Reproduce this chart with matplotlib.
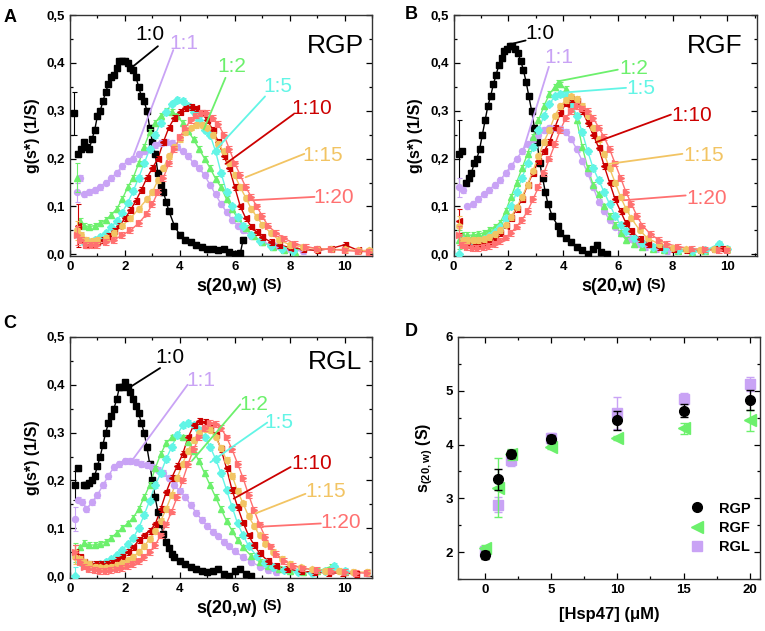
import numpy as np
import matplotlib
matplotlib.use("Agg")
import matplotlib.pyplot as plt
from matplotlib.ticker import MultipleLocator, FuncFormatter
from matplotlib.lines import Line2D

plt.rcParams['font.family'] = ['Liberation Sans', 'DejaVu Sans']
plt.rcParams['mathtext.fontset'] = 'custom'
plt.rcParams['mathtext.rm'] = 'Liberation Sans'
plt.rcParams['mathtext.bf'] = 'Liberation Sans:bold'

ratios = ["1:0", "1:1", "1:2", "1:5", "1:10", "1:15", "1:20"]
colors = ["#000000", "#c9a3f5", "#6cf06c", "#62f5e6", "#cc0000", "#f2c463", "#ff7070"]
markers = ["s", "o", "^", "D", "<", "h", ">"]

# ---------------- Panel A (RGP) ----------------
A_x0 = [0.15,0.3,0.4,0.5,0.6,0.7,0.8,0.9,1.0,1.1,1.2,1.3,1.4,1.5,1.6,1.7,1.8,1.9,2.0,2.1,2.2,2.3,2.4,2.5,2.6,2.7,2.8,2.9,3.0,3.1,3.2,3.3,3.4,3.5,3.6,3.8,4.0,4.2,4.4,4.6,4.8,5.0,5.2,5.4,5.6,5.8,6.0,6.2,6.3]
A_y0 = [0.295,0.21,0.22,0.235,0.225,0.22,0.24,0.26,0.29,0.30,0.32,0.34,0.355,0.37,0.375,0.39,0.405,0.405,0.405,0.40,0.39,0.385,0.37,0.35,0.33,0.32,0.30,0.265,0.235,0.21,0.17,0.145,0.13,0.11,0.09,0.06,0.04,0.03,0.025,0.02,0.015,0.01,0.012,0.008,0.01,0.005,0.0,0.002,0.03]
A_x1 = [0.25,0.35,0.5,0.7,0.9,1.1,1.3,1.5,1.7,1.9,2.1,2.3,2.5,2.7,2.9,3.1,3.3,3.5,3.7,3.9,4.1,4.3,4.5,4.7,4.9,5.1,5.3,5.5,5.7,5.9,6.1,6.3,6.6,7.0,7.5,8.0,8.5]
A_y1 = [0.13,0.16,0.125,0.13,0.135,0.14,0.15,0.16,0.17,0.185,0.195,0.20,0.21,0.215,0.22,0.228,0.232,0.235,0.232,0.225,0.215,0.205,0.19,0.18,0.165,0.145,0.125,0.105,0.088,0.072,0.06,0.05,0.038,0.026,0.017,0.01,0.006]
A_x2 = [0.25,0.35,0.5,0.7,0.9,1.1,1.3,1.5,1.7,1.9,2.1,2.3,2.5,2.7,2.9,3.1,3.3,3.5,3.7,3.9,4.1,4.3,4.5,4.7,4.9,5.1,5.3,5.5,5.7,5.9,6.1,6.4,6.7,7.0,7.4,7.8,8.2]
A_y2 = [0.16,0.07,0.06,0.058,0.06,0.065,0.072,0.082,0.095,0.115,0.14,0.16,0.19,0.225,0.255,0.275,0.29,0.30,0.298,0.29,0.275,0.258,0.24,0.22,0.2,0.18,0.158,0.14,0.115,0.095,0.075,0.055,0.038,0.025,0.015,0.009,0.005]
A_x3 = [0.3,0.5,0.7,0.9,1.1,1.3,1.5,1.7,1.9,2.1,2.3,2.5,2.7,2.9,3.1,3.3,3.5,3.7,3.9,4.1,4.3,4.5,4.7,4.9,5.1,5.3,5.5,5.7,5.9,6.1,6.3,6.6,6.9,7.3,7.7,8.1]
A_y3 = [0.04,0.025,0.025,0.03,0.037,0.045,0.057,0.07,0.087,0.108,0.132,0.16,0.19,0.22,0.25,0.275,0.298,0.315,0.322,0.32,0.31,0.298,0.28,0.26,0.25,0.215,0.17,0.13,0.1,0.078,0.06,0.04,0.028,0.017,0.01,0.006]
A_x4 = [0.3,0.45,0.6,0.8,1.0,1.2,1.4,1.6,1.8,2.0,2.2,2.4,2.6,2.8,3.0,3.2,3.4,3.6,3.8,4.0,4.2,4.4,4.6,4.8,5.0,5.2,5.4,5.6,5.8,6.0,6.2,6.4,6.6,6.8,7.0,7.3,7.6,8.0,8.5,9.0,9.5,10.0,10.5]
A_y4 = [0.06,0.03,0.02,0.022,0.025,0.03,0.038,0.048,0.06,0.075,0.092,0.112,0.135,0.16,0.18,0.2,0.235,0.265,0.285,0.298,0.305,0.308,0.305,0.295,0.28,0.26,0.235,0.205,0.18,0.14,0.1,0.075,0.058,0.046,0.036,0.026,0.02,0.014,0.01,0.008,0.012,0.02,0.008]
A_x5 = [0.25,0.4,0.6,0.8,1.0,1.3,1.6,1.9,2.2,2.5,2.8,3.0,3.2,3.4,3.6,3.8,4.0,4.2,4.4,4.6,4.8,5.0,5.2,5.4,5.6,5.8,6.0,6.2,6.4,6.6,6.8,7.0,7.3,7.6,8.0,8.5,9.0,9.5,10.0,10.5,10.9]
A_y5 = [0.05,0.04,0.03,0.028,0.03,0.035,0.045,0.06,0.075,0.095,0.115,0.13,0.155,0.18,0.205,0.225,0.24,0.255,0.265,0.27,0.27,0.265,0.25,0.23,0.215,0.19,0.165,0.14,0.118,0.095,0.078,0.062,0.045,0.03,0.02,0.015,0.012,0.01,0.01,0.008,0.008]
A_x6 = [0.25,0.4,0.6,0.8,1.0,1.3,1.6,1.9,2.2,2.5,2.8,3.0,3.2,3.4,3.6,3.8,4.0,4.2,4.4,4.6,4.8,5.0,5.2,5.4,5.6,5.8,6.0,6.2,6.4,6.6,6.8,7.0,7.2,7.5,7.8,8.2,8.6,9.0,9.5,10.0,10.5,10.9]
A_y6 = [0.04,0.03,0.02,0.02,0.02,0.025,0.03,0.04,0.05,0.065,0.085,0.105,0.13,0.16,0.19,0.22,0.245,0.265,0.28,0.29,0.295,0.295,0.285,0.272,0.25,0.22,0.19,0.165,0.14,0.12,0.1,0.08,0.06,0.045,0.033,0.022,0.016,0.012,0.01,0.008,0.006,0.005]
A_err0 = [0.045, 0.02, 0.03, 0.02, 0.045, 0.02, 0.02]

# ---------------- Panel B (RGF) ----------------
B_x0 = [0.2,0.3,0.45,0.55,0.65,0.75,0.85,0.95,1.05,1.15,1.25,1.35,1.45,1.55,1.65,1.75,1.85,1.95,2.05,2.15,2.25,2.35,2.45,2.55,2.65,2.75,2.85,2.95,3.05,3.15,3.25,3.35,3.45,3.6,3.8,3.9,4.1,4.3,4.5,4.7,4.9,5.1,5.25,5.4,5.6]
B_y0 = [0.21,0.215,0.15,0.16,0.17,0.19,0.2,0.22,0.25,0.28,0.31,0.33,0.355,0.375,0.395,0.41,0.425,0.43,0.435,0.435,0.43,0.42,0.405,0.385,0.36,0.33,0.3,0.265,0.235,0.19,0.16,0.13,0.105,0.08,0.06,0.045,0.035,0.025,0.015,0.008,0.0,0.01,0.02,0.005,0.0]
B_x1 = [0.2,0.35,0.5,0.7,0.9,1.1,1.3,1.5,1.7,1.9,2.1,2.3,2.5,2.7,2.9,3.1,3.3,3.5,3.7,3.9,4.1,4.3,4.5,4.7,4.9,5.1,5.3,5.5,5.7,5.9,6.1,6.4,6.7,7.0,7.4,7.8]
B_y1 = [0.14,0.135,0.1,0.105,0.115,0.125,0.135,0.145,0.155,0.17,0.185,0.2,0.215,0.23,0.24,0.25,0.26,0.265,0.265,0.262,0.255,0.24,0.22,0.195,0.17,0.14,0.11,0.09,0.072,0.058,0.045,0.032,0.022,0.015,0.01,0.006]
B_x2 = [0.2,0.35,0.5,0.7,0.9,1.1,1.3,1.5,1.7,1.9,2.1,2.3,2.5,2.7,2.9,3.1,3.3,3.5,3.7,3.8,3.9,4.1,4.3,4.5,4.7,4.9,5.1,5.3,5.5,5.7,5.9,6.1,6.3,6.6,6.9,7.3,7.7,8.2,8.7,9.2,9.7,10.0]
B_y2 = [0.03,0.04,0.04,0.04,0.042,0.045,0.05,0.058,0.066,0.09,0.12,0.15,0.18,0.21,0.245,0.28,0.31,0.335,0.35,0.358,0.355,0.345,0.32,0.28,0.225,0.18,0.145,0.125,0.1,0.08,0.062,0.045,0.03,0.022,0.016,0.012,0.008,0.006,0.005,0.006,0.02,0.01]
B_x3 = [0.2,0.35,0.5,0.7,0.9,1.1,1.3,1.5,1.7,1.9,2.1,2.3,2.5,2.7,2.9,3.1,3.3,3.5,3.7,3.9,4.1,4.3,4.5,4.7,4.9,5.1,5.3,5.5,5.7,5.9,6.1,6.3,6.6,6.9,7.3,7.7,8.2,8.7,9.2,9.7,10.0]
B_y3 = [0.0,0.03,0.025,0.025,0.028,0.032,0.038,0.046,0.058,0.075,0.1,0.13,0.16,0.19,0.225,0.26,0.29,0.315,0.33,0.335,0.33,0.315,0.29,0.255,0.215,0.18,0.155,0.13,0.105,0.08,0.062,0.048,0.033,0.023,0.015,0.01,0.008,0.007,0.008,0.022,0.012]
B_x4 = [0.2,0.35,0.5,0.7,0.9,1.1,1.3,1.5,1.7,1.9,2.1,2.3,2.5,2.7,2.9,3.1,3.3,3.5,3.7,3.9,4.1,4.3,4.5,4.7,4.9,5.1,5.3,5.5,5.7,5.9,6.1,6.3,6.5,6.8,7.1,7.5,8.0,8.5,9.0,9.5,9.8]
B_y4 = [0.07,0.03,0.02,0.018,0.02,0.023,0.028,0.035,0.045,0.06,0.075,0.095,0.115,0.145,0.17,0.195,0.215,0.235,0.265,0.295,0.315,0.325,0.32,0.3,0.275,0.25,0.223,0.185,0.15,0.115,0.09,0.065,0.048,0.032,0.022,0.015,0.01,0.008,0.008,0.01,0.012]
B_x5 = [0.2,0.35,0.5,0.7,0.9,1.1,1.3,1.5,1.7,1.9,2.1,2.3,2.5,2.7,2.9,3.1,3.3,3.5,3.7,3.9,4.1,4.3,4.5,4.7,4.9,5.1,5.3,5.5,5.7,5.9,6.1,6.3,6.5,6.8,7.1,7.5,8.0,8.5,9.0,9.5,10.0]
B_y5 = [0.06,0.03,0.03,0.03,0.03,0.032,0.036,0.042,0.05,0.062,0.078,0.098,0.12,0.145,0.175,0.205,0.235,0.26,0.29,0.31,0.322,0.33,0.325,0.31,0.29,0.265,0.24,0.21,0.18,0.15,0.12,0.095,0.075,0.05,0.033,0.022,0.014,0.01,0.009,0.01,0.01]
B_x6 = [0.2,0.35,0.5,0.7,0.9,1.1,1.3,1.5,1.7,1.9,2.1,2.3,2.5,2.7,2.9,3.1,3.3,3.5,3.7,3.9,4.1,4.3,4.5,4.7,4.9,5.1,5.3,5.5,5.7,5.9,6.1,6.3,6.5,6.7,6.9,7.2,7.5,7.8,8.2,8.7,9.2,9.7,10.0]
B_y6 = [0.04,0.02,0.015,0.013,0.013,0.015,0.018,0.022,0.028,0.035,0.045,0.058,0.072,0.09,0.115,0.14,0.17,0.2,0.23,0.26,0.285,0.3,0.31,0.305,0.3,0.285,0.265,0.245,0.22,0.19,0.16,0.13,0.105,0.08,0.06,0.042,0.03,0.022,0.016,0.012,0.01,0.009,0.008]
B_err0 = [0.07, 0.02, 0.02, 0.02, 0.025, 0.02, 0.02]

# ---------------- Panel C (RGL) ----------------
C_x0 = [0.2,0.3,0.5,0.6,0.7,0.8,0.9,1.0,1.1,1.2,1.3,1.4,1.5,1.6,1.7,1.8,1.9,2.0,2.1,2.2,2.3,2.4,2.5,2.6,2.7,2.8,2.9,3.0,3.1,3.2,3.3,3.4,3.5,3.6,3.7,3.8,4.0,4.2,4.4,4.6,4.8,5.0,5.2,5.4,5.6,5.8,6.0,6.2,6.4,6.6]
C_y0 = [0.19,0.225,0.19,0.19,0.195,0.2,0.21,0.23,0.25,0.275,0.3,0.32,0.335,0.35,0.37,0.395,0.395,0.405,0.395,0.385,0.37,0.355,0.34,0.32,0.3,0.27,0.235,0.2,0.165,0.135,0.108,0.088,0.072,0.058,0.047,0.04,0.032,0.025,0.02,0.015,0.01,0.008,0.01,0.015,0.005,0.0,0.01,0.015,0.005,0.0]
C_x1 = [0.2,0.3,0.45,0.6,0.8,1.0,1.2,1.4,1.6,1.8,2.0,2.2,2.4,2.6,2.8,3.0,3.2,3.4,3.6,3.8,4.0,4.2,4.4,4.6,4.8,5.0,5.2,5.4,5.6,5.8,6.0,6.3,6.6,6.9,7.2,7.5]
C_y1 = [0.12,0.16,0.155,0.14,0.155,0.17,0.19,0.21,0.228,0.235,0.24,0.24,0.238,0.235,0.232,0.228,0.222,0.215,0.205,0.19,0.178,0.165,0.148,0.132,0.117,0.105,0.093,0.083,0.072,0.062,0.052,0.04,0.03,0.02,0.013,0.008]
C_x2 = [0.2,0.35,0.5,0.7,0.9,1.1,1.3,1.5,1.7,1.9,2.1,2.3,2.5,2.7,2.9,3.1,3.3,3.5,3.7,3.9,4.1,4.3,4.5,4.7,4.9,5.1,5.3,5.5,5.7,5.9,6.1,6.3,6.6,6.9,7.2,7.6,8.0,8.5,9.0,9.5,10.0]
C_y2 = [0.05,0.06,0.07,0.065,0.065,0.068,0.072,0.08,0.09,0.1,0.11,0.122,0.14,0.165,0.19,0.225,0.255,0.278,0.29,0.295,0.29,0.28,0.262,0.24,0.215,0.19,0.165,0.14,0.115,0.095,0.075,0.06,0.042,0.03,0.022,0.015,0.01,0.008,0.01,0.02,0.008]
C_x3 = [0.2,0.35,0.5,0.7,0.9,1.1,1.3,1.5,1.7,1.9,2.1,2.3,2.5,2.7,2.9,3.1,3.3,3.5,3.7,3.9,4.1,4.3,4.5,4.7,4.9,5.1,5.3,5.5,5.7,5.9,6.1,6.3,6.5,6.8,7.1,7.4,7.8,8.3,8.8,9.3,9.6,10.0]
C_y3 = [0.0,0.03,0.025,0.02,0.022,0.025,0.03,0.036,0.045,0.055,0.067,0.08,0.1,0.128,0.158,0.19,0.215,0.245,0.27,0.295,0.315,0.32,0.315,0.305,0.29,0.27,0.245,0.215,0.18,0.145,0.11,0.085,0.063,0.042,0.027,0.018,0.012,0.008,0.007,0.01,0.022,0.01]
C_x4 = [0.2,0.35,0.5,0.7,0.9,1.1,1.3,1.5,1.7,1.9,2.1,2.3,2.5,2.7,2.9,3.1,3.3,3.5,3.7,3.9,4.1,4.3,4.5,4.7,4.9,5.1,5.3,5.5,5.7,5.9,6.1,6.3,6.5,6.7,6.9,7.2,7.5,7.9,8.4,8.9,9.4,9.9,10.4]
C_y4 = [0.05,0.04,0.03,0.025,0.025,0.025,0.025,0.028,0.033,0.04,0.05,0.06,0.075,0.085,0.095,0.108,0.14,0.175,0.205,0.23,0.255,0.29,0.315,0.325,0.322,0.31,0.295,0.265,0.225,0.18,0.145,0.112,0.085,0.065,0.048,0.032,0.022,0.015,0.01,0.008,0.007,0.006,0.005]
C_x5 = [0.2,0.35,0.5,0.7,0.9,1.1,1.3,1.5,1.7,1.9,2.1,2.3,2.5,2.7,2.9,3.1,3.3,3.5,3.7,3.9,4.1,4.3,4.5,4.7,4.9,5.1,5.3,5.5,5.7,5.9,6.1,6.3,6.5,6.7,6.9,7.1,7.4,7.7,8.0,8.4,8.8,9.3,9.8,10.3,10.8]
C_y5 = [0.04,0.035,0.03,0.025,0.02,0.018,0.018,0.02,0.023,0.027,0.033,0.04,0.05,0.062,0.078,0.095,0.115,0.14,0.17,0.205,0.235,0.262,0.285,0.3,0.308,0.305,0.29,0.268,0.242,0.21,0.178,0.152,0.125,0.105,0.085,0.068,0.05,0.035,0.025,0.018,0.014,0.011,0.01,0.009,0.008]
C_x6 = [0.2,0.35,0.5,0.7,0.9,1.1,1.3,1.5,1.7,1.9,2.1,2.3,2.5,2.7,2.9,3.1,3.3,3.5,3.7,3.9,4.1,4.3,4.5,4.7,4.9,5.1,5.3,5.5,5.7,5.9,6.1,6.3,6.5,6.7,6.9,7.1,7.3,7.5,7.8,8.1,8.5,9.0,9.5,10.0,10.4,10.8]
C_y6 = [0.05,0.03,0.02,0.015,0.012,0.011,0.011,0.012,0.014,0.017,0.021,0.026,0.032,0.04,0.05,0.065,0.085,0.108,0.135,0.165,0.2,0.235,0.265,0.29,0.31,0.32,0.318,0.31,0.29,0.265,0.235,0.205,0.17,0.138,0.108,0.082,0.062,0.046,0.032,0.022,0.016,0.012,0.01,0.008,0.007,0.006]
C_err0 = [0.03, 0.025, 0.02, 0.02, 0.015, 0.015, 0.015]

# ---------------- Panel D ----------------
D_conc = [0, 1, 2, 5, 10, 15, 20]
D_rgp = [1.95, 3.35, 3.82, 4.10, 4.45, 4.63, 4.83]
D_rgp_err = [0.07, 0.20, 0.08, 0.08, 0.18, 0.12, 0.18]
D_rgf = [2.08, 3.20, 3.82, 3.95, 4.12, 4.30, 4.45]
D_rgf_err = [0.05, 0.55, 0.10, 0.04, 0.04, 0.10, 0.20]
D_rgl = [2.02, 2.88, 3.72, 4.12, 4.58, 4.85, 5.13]
D_rgl_err = [0.05, 0.14, 0.12, 0.10, 0.30, 0.10, 0.13]

panels = {
    "A": dict(title="RGP", xs=[A_x0, A_x1, A_x2, A_x3, A_x4, A_x5, A_x6],
              ys=[A_y0, A_y1, A_y2, A_y3, A_y4, A_y5, A_y6], err0=A_err0,
              xlim=(0, 11), ttl=(10.7, 0.435),
              labels=[((2.9, 0.46), (3.2, 0.435), (2.15, 0.386)),
                      ((4.15, 0.44), (3.76, 0.427), (2.31, 0.206)),
                      ((5.9, 0.393), (5.66, 0.369), (4.87, 0.261)),
                      ((7.55, 0.351), (7.1, 0.33), (5.17, 0.21)),
                      ((8.8, 0.305), (8.14, 0.293), (5.66, 0.189)),
                      ((9.2, 0.206), (8.53, 0.21), (6.39, 0.161)),
                      ((9.6, 0.118), (8.9, 0.12), (6.63, 0.113))]),
    "B": dict(title="RGF", xs=[B_x0, B_x1, B_x2, B_x3, B_x4, B_x5, B_x6],
              ys=[B_y0, B_y1, B_y2, B_y3, B_y4, B_y5, B_y6], err0=B_err0,
              xlim=(0, 11.1), ttl=(10.55, 0.435),
              labels=[((3.15, 0.462), (2.63, 0.447), (2.2, 0.441)),
                      ((3.85, 0.412), (3.48, 0.392), (2.5, 0.21)),
                      ((6.6, 0.388), (6.0, 0.386), (3.85, 0.362)),
                      ((6.85, 0.346), (6.3, 0.348), (3.98, 0.338)),
                      ((8.7, 0.29), (7.94, 0.292), (5.19, 0.234)),
                      ((9.15, 0.206), (8.36, 0.21), (5.68, 0.189)),
                      ((9.25, 0.116), (8.48, 0.123), (6.23, 0.113))]),
    "C": dict(title="RGL", xs=[C_x0, C_x1, C_x2, C_x3, C_x4, C_x5, C_x6],
              ys=[C_y0, C_y1, C_y2, C_y3, C_y4, C_y5, C_y6], err0=C_err0,
              xlim=(0, 11), ttl=(10.65, 0.448),
              labels=[((3.65, 0.456), (3.28, 0.435), (2.13, 0.393)),
                      ((4.77, 0.409), (4.28, 0.4), (2.25, 0.241)),
                      ((6.7, 0.359), (6.2, 0.359), (4.44, 0.241)),
                      ((7.6, 0.322), (7.18, 0.321), (5.11, 0.238)),
                      ((8.8, 0.236), (8.03, 0.228), (5.96, 0.162)),
                      ((9.3, 0.176), (8.57, 0.172), (6.75, 0.131)),
                      ((9.85, 0.112), (9.13, 0.11), (7.0, 0.1035))]),
}

fig = plt.figure(figsize=(7.65, 6.31), dpi=100)
positions = {"A": [0.0915, 0.594, 0.395, 0.382],
             "B": [0.593, 0.594, 0.397, 0.382],
             "C": [0.0915, 0.084, 0.395, 0.382],
             "D": [0.599, 0.0825, 0.395, 0.3835]}

comma = FuncFormatter(lambda v, p: f"{v:.1f}".replace(".", ","))


def style_axes(ax):
    ax.tick_params(which="both", direction="in", top=True, right=True,
                   labelsize=9.5, width=0.9)
    ax.tick_params(which="major", length=4)
    ax.tick_params(which="minor", length=2)
    for lab in ax.get_xticklabels() + ax.get_yticklabels():
        lab.set_fontweight("bold")
    for sp in ax.spines.values():
        sp.set_linewidth(1.0)
        sp.set_color("#333333")


for key in ["A", "B", "C"]:
    p = panels[key]
    ax = fig.add_axes(positions[key])
    for i in range(7):
        x = np.array(p["xs"][i])
        y = np.array(p["ys"][i])
        c = colors[i]
        m = x >= 0.45
        ax.plot(x[m], y[m], "-", color=c, lw=1.0, zorder=2 + i * 0.1)
        err = np.full(len(y), 0.006)
        err[0] = p["err0"][i]
        ax.errorbar(x, y, yerr=err, fmt=markers[i], color=c, ms=4.3 if markers[i] != "D" else 3.6,
                    mec=c, mfc=c, elinewidth=0.8, capsize=1.8, capthick=0.8, lw=0,
                    zorder=3 + i * 0.1)
    for i, (tpos, lstart, lend) in enumerate(p["labels"]):
        ax.annotate("", xy=lend, xytext=lstart,
                    arrowprops=dict(arrowstyle="-", color=colors[i], lw=1.3,
                                    shrinkA=0, shrinkB=0), zorder=6)
        ax.text(tpos[0], tpos[1], ratios[i], color=colors[i], fontsize=15,
                ha="center", va="center", zorder=7)
    ax.text(p["ttl"][0], p["ttl"][1], p["title"], fontsize=19, ha="right",
            va="center", color="black")
    ax.set_xlim(*p["xlim"])
    ax.set_ylim(-0.004, 0.5)
    ax.xaxis.set_major_locator(MultipleLocator(2))
    ax.xaxis.set_minor_locator(MultipleLocator(1))
    ax.yaxis.set_major_locator(MultipleLocator(0.1))
    ax.yaxis.set_minor_locator(MultipleLocator(0.05))
    ax.yaxis.set_major_formatter(comma)
    style_axes(ax)
    ax.set_ylabel("g(s*) (1/S)", fontsize=11.5, fontweight="bold", labelpad=5)
    ax.text(0.62, -0.125, "s(20,w)", transform=ax.transAxes, ha="right",
            va="center", fontsize=13, fontweight="bold")
    ax.text(0.635, -0.118, "(S)", transform=ax.transAxes, ha="left",
            va="center", fontsize=10.5, fontweight="bold")

# Panel D
axd = fig.add_axes(positions["D"])
axd.errorbar(D_conc, D_rgp, yerr=D_rgp_err, fmt="o", color="black", ms=7,
             capsize=3, elinewidth=1, capthick=1, zorder=5)
axd.errorbar(D_conc, D_rgf, yerr=D_rgf_err, fmt="<", color="#6cf06c", ms=8,
             capsize=3, elinewidth=1, capthick=1, zorder=4)
axd.errorbar(D_conc, D_rgl, yerr=D_rgl_err, fmt="s", color="#c9a3f5", ms=6.5,
             capsize=3, elinewidth=1, capthick=1, zorder=3)
axd.set_xlim(-2, 20.8)
axd.set_ylim(1.5, 6)
axd.xaxis.set_major_locator(MultipleLocator(5))
axd.xaxis.set_minor_locator(MultipleLocator(2.5))
axd.yaxis.set_major_locator(MultipleLocator(1))
axd.yaxis.set_minor_locator(MultipleLocator(0.5))
style_axes(axd)
axd.set_xlabel("[Hsp47] (μM)", fontsize=12, fontweight="bold", labelpad=8)
axd.set_ylabel(r"$\mathbf{s_{(20,w)}}$ (S)", fontsize=11.5, fontweight="bold", labelpad=8)
handles = [Line2D([], [], ls="none", marker="o", color="black", ms=7),
           Line2D([], [], ls="none", marker="<", color="#6cf06c", ms=8),
           Line2D([], [], ls="none", marker="s", color="#c9a3f5", ms=6.5)]
axd.legend(handles, ["RGP", "RGF", "RGL"], loc="lower right", frameon=False,
           handletextpad=0.9, prop={"weight": "bold", "size": 10.5},
           labelspacing=0.35, handlelength=1.2, bbox_to_anchor=(1.01, 0.05))

for letter, (fx, fy) in {"A": (0.004, 0.985), "B": (0.529, 0.99),
                          "C": (0.004, 0.5), "D": (0.529, 0.488)}.items():
    fig.text(fx, fy, letter, fontsize=13, fontweight="bold", ha="left", va="top")

fig.savefig("out.png", dpi=100)
